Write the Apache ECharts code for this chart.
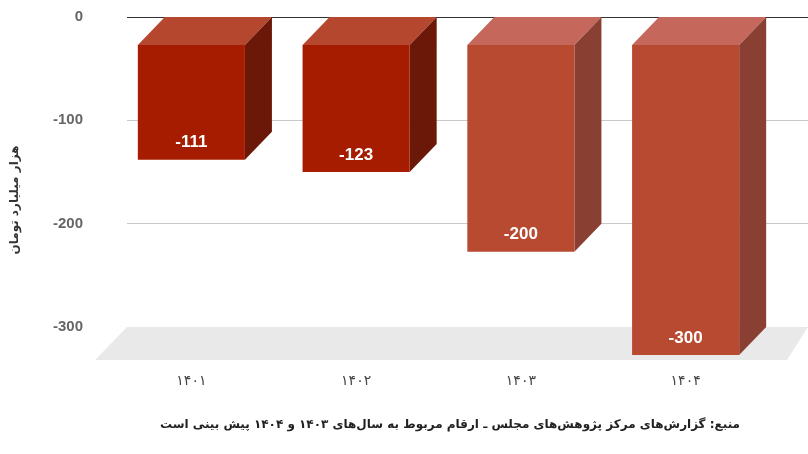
<!DOCTYPE html>
<html>
<head>
<meta charset="utf-8">
<script src="https://cdn.jsdelivr.net/npm/echarts@6/dist/echarts.min.js"></script>
<style>
  html, body { margin: 0; padding: 0; background: #fff; }
  #main { width: 808px; height: 454px; }
</style>
</head>
<body>
<div id="main"></div>
<script>
/* داده‌های نمودار */
const categories = ['۱۴۰۱', '۱۴۰۲', '۱۴۰۳', '۱۴۰۴']
const values = [-111, -123, -200, -300]
const yTicks = [-300, -200, -100, 0]
const yAxisName = 'هزار میلیارد تومان'
const sourceNote = 'منبع: گزارش‌های مرکز پژوهش‌های مجلس ـ ارقام مربوط به سال‌های ۱۴۰۳ و ۱۴۰۴ پیش بینی است'

// رنگ وجه‌ها: سال‌های قطعی تیره‌تر، سال‌های پیش‌بینی روشن‌تر
const faceColors = [
  { front: '#a61c00', top: '#b6472f', side: '#6c1808' },
  { front: '#a61c00', top: '#b6472f', side: '#6c1808' },
  { front: '#b84a32', top: '#c5675a', side: '#8a3f33' },
  { front: '#b84a32', top: '#c5675a', side: '#8a3f33' },
]

const DX = 27, DY = -28 // عمق سه‌بعدی

var myChart = echarts.init(document.getElementById('main'))

function renderBar(params, api) {
  const i = params.dataIndex
  const base = api.coord([api.value(0), 0])
  const end = api.coord([api.value(0), api.value(1)])
  const w = api.size([1, 0])[0] * 0.65
  const x0 = base[0] - w / 2, x1 = base[0] + w / 2
  const y0 = base[1], y1 = end[1]
  const c = faceColors[i]
  return {
    type: 'group',
    children: [
      { type: 'polygon', shape: { points: [[x0, y0], [x0 + DX, y0 + DY], [x1 + DX, y0 + DY], [x1, y0]] }, style: { fill: c.top } },
      { type: 'polygon', shape: { points: [[x1, y0], [x1 + DX, y0 + DY], [x1 + DX, y1 + DY], [x1, y1]] }, style: { fill: c.side } },
      { type: 'rect', shape: { x: x0, y: y0, width: w, height: y1 - y0 }, style: { fill: c.front } },
      {
        type: 'text',
        style: {
          text: String(api.value(1)), x: base[0], y: y1 - 17, align: 'center', verticalAlign: 'middle',
          fill: '#fff', font: 'bold 17px "Liberation Sans", Arial, sans-serif'
        }
      }
    ]
  }
}

function renderFloor(params, api) {
  const p0 = api.coord([0, yTicks[0]])
  const p1 = api.coord([1, yTicks[0]])
  return {
    type: 'polygon',
    shape: { points: [[p0[0], p0[1]], [p1[0], p1[1]], [p1[0] - 21, p1[1] + 33], [p0[0] - 32, p0[1] + 33]] },
    style: { fill: '#e9e9e9' }
  }
}

const option = {
  animation: false,
  grid: [
    // صفحهٔ پشتی: خطوط راهنما و برچسب‌های محور عمودی
    { left: 127, right: 0, top: 17, height: 310 },
    // صفحهٔ جلویی ستون‌ها
    { left: 109, right: 40, top: 45, height: 310 },
  ],
  xAxis: [
    { gridIndex: 0, type: 'value', min: 0, max: 1, show: false },
    {
      gridIndex: 1, type: 'category', data: categories,
      axisLine: { show: false }, axisTick: { show: false },
      axisLabel: { margin: 19, fontSize: 14, color: '#444', fontFamily: 'DejaVu Sans' }
    }
  ],
  yAxis: [
    {
      gridIndex: 0, type: 'value', min: yTicks[0], max: yTicks[yTicks.length - 1], interval: 100,
      axisLine: { show: false }, axisTick: { show: false },
      axisLabel: { margin: 44, fontSize: 15, fontWeight: 'bold', color: '#666', fontFamily: '"Liberation Sans", Arial' },
      splitLine: { lineStyle: { color: ['#c8c8c8', '#c8c8c8', '#c8c8c8', '#333333'], width: 1.2 } }
    },
    { gridIndex: 1, type: 'value', min: yTicks[0], max: yTicks[yTicks.length - 1], show: false }
  ],
  graphic: [
    {
      type: 'text', x: 15, y: 200, rotation: Math.PI / 2,
      style: { text: yAxisName, align: 'center', verticalAlign: 'middle', fill: '#333', font: 'bold 12px "DejaVu Sans"' }
    },
    {
      type: 'text', right: 68, top: 419,
      style: { text: sourceNote, fill: '#222', font: 'bold 12px "DejaVu Sans"' }
    }
  ],
  series: [
    { type: 'custom', xAxisIndex: 0, yAxisIndex: 0, z: 1, renderItem: renderFloor, data: [[0, yTicks[0]]] },
    {
      type: 'custom', xAxisIndex: 1, yAxisIndex: 1, z: 2, renderItem: renderBar,
      data: values.map((v, i) => [i, v])
    }
  ]
}
myChart.setOption(option)
</script>
</body>
</html>
